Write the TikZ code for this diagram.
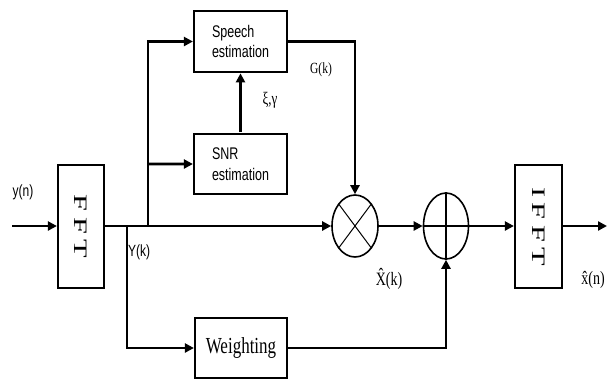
\documentclass[tikz,border=0pt]{standalone}
\usepackage{fontspec}
\setmainfont{Liberation Serif}
\newfontfamily\arialfont{Liberation Sans}
\usetikzlibrary{arrows.meta,shapes.geometric,calc}

\begin{document}
\begin{tikzpicture}[x=1pt, y=-1pt, >={Triangle[length=9pt,width=9pt]},
		block/.style={draw, line width=2.2pt, fill=white, yscale=1.35, inner sep=0pt},
		fftblock/.style={block, yscale=1.185, minimum height=77pt, font=\fontsize{19}{19}\selectfont},
		oper/.style={draw, ellipse, line width=1.6pt, inner sep=0pt},
		wire/.style={line width=2.6pt},
		lbl/.style={yscale=1.35, inner sep=0pt}]
		\useasboundingbox (0,0) rectangle (613,381);
		% blocks
		\node[fftblock, minimum width=46pt] (fft) at (81,226.5)
		{\rotatebox{-90}{\addfontfeature{LetterSpace=18}FFT}};
		\node[fftblock, minimum width=47pt] (ifft) at (538.5,226.5)
		{\rotatebox{-90}{\addfontfeature{LetterSpace=18}IFFT}};
		\node[block, minimum width=93pt, minimum height=45pt, align=left, font=\arialfont\fontsize{12.5}{15.5}\selectfont] (speech) at (240.5,41.5)
		{Speech\\estimation};
		\node[block, minimum width=93pt, minimum height=45pt, align=left, font=\arialfont\fontsize{12.5}{15.5}\selectfont] (snr) at (240.5,164)
		{SNR\\estimation};
		\node[block, minimum width=92pt, minimum height=44pt, font=\fontsize{17}{19}\selectfont] (weight) at (241,348)
		{Weighting};
		% multiplier and adder
		\node[oper, minimum width=46pt, minimum height=62pt] (mult) at (355,226) {};
		\node[oper, minimum width=45pt, minimum height=66pt] (add) at (446,226) {};
		\draw[line width=1pt] ($(mult)+(45:23 and 31)$) -- ($(mult)+(225:23 and 31)$)
		($(mult)+(135:23 and 31)$) -- ($(mult)+(315:23 and 31)$);
		\draw[line width=1.3pt] (add.north) -- (add.south) (add.west) -- (add.east);
		% ends and branch points
		\coordinate (in) at (12,226);
		\coordinate (out) at (607,226);
		\coordinate (br1) at (148,226);
		\coordinate (br2) at (127,226);
		% signal flow
		\draw[wire,->] (in) -- (in -| fft.west);
		\draw[wire,->] (fft.east |- in) -- (mult);
		\draw[wire,->] (br1) |- (speech);
		\draw[wire,->] (br1 |- snr) -- (snr);
		\draw[wire,->] (br2) |- (weight);
		\draw[wire,->] (snr) -- (speech);
		\draw[wire,->] (speech) -| (mult);
		\draw[wire,->] (mult) -- (add);
		\draw[wire,->] (add) -- (add -| ifft.west);
		\draw[wire,->] (ifft.east |- out) -- (out);
		\draw[wire,->] (weight) -| (add);
		% labels
		\node[lbl, font=\arialfont\fontsize{12}{14}\selectfont] (yn) at (23,192) {y(n)};
		\node[lbl, font=\arialfont\fontsize{12}{14}\selectfont] (yk) at (139,252) {Y(k)};
		\node[lbl, font=\fontsize{11.5}{13}\selectfont] (gk) at (321,70) {G(k)};
		\node[lbl, font=\fontsize{13}{15}\selectfont] (xg) at (270,100) {ξ,γ};
		\node[lbl, font=\fontsize{14}{16}\selectfont] (xk) at (389,279) {\^{X}(k)};
		\node[lbl, font=\fontsize{14}{16}\selectfont] (xn) at (593,280) {\^{x}(n)};
	\end{tikzpicture}
\end{document}
